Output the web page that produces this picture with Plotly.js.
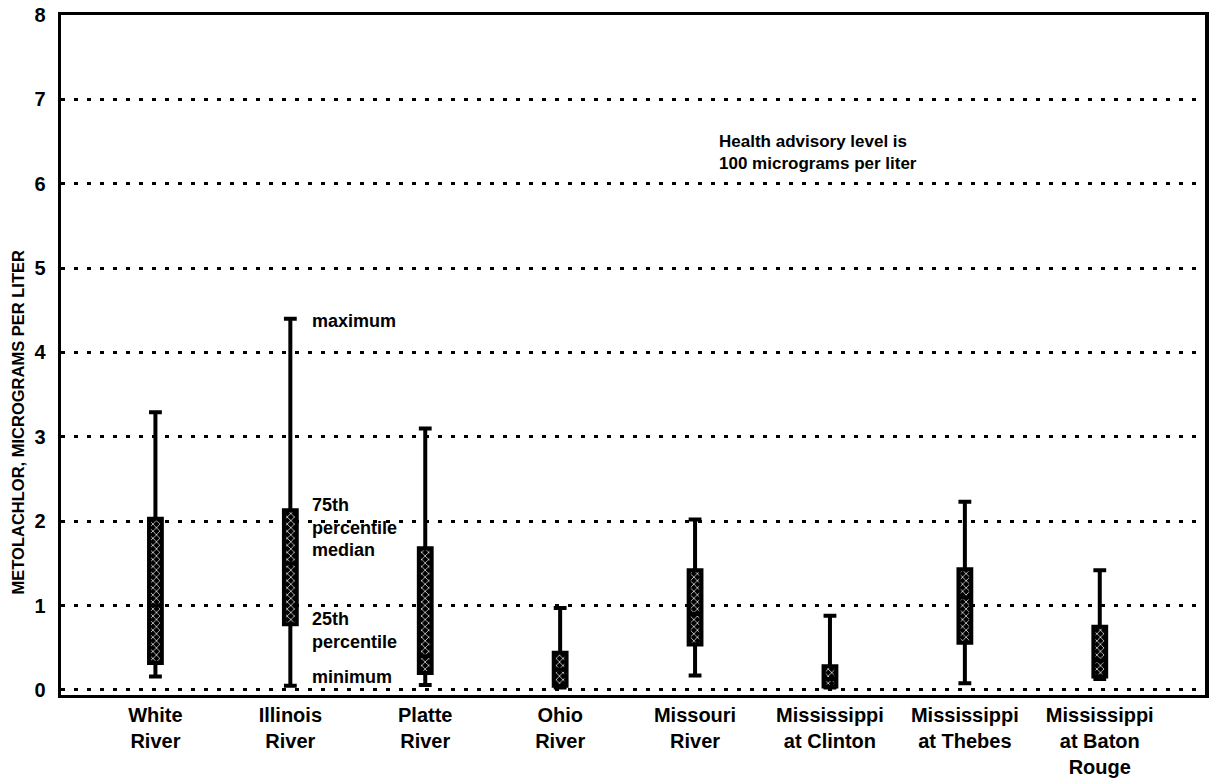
<!DOCTYPE html>
<html>
<head>
<meta charset="utf-8">
<script src="https://cdn.plot.ly/plotly-3.0.1.min.js"></script>
<style>
  html, body { margin: 0; padding: 0; background: #ffffff; }
  #chart { width: 1209px; height: 784px; }
</style>
</head>
<body>
<div id="chart"></div>
<script>
// ---- Data (micrograms per liter) ----
const categories = [
  'White<br>River',
  'Illinois<br>River',
  'Platte<br>River',
  'Ohio<br>River',
  'Missouri<br>River',
  'Mississippi<br>at Clinton',
  'Mississippi<br>at Thebes',
  'Mississippi<br>at Baton<br>Rouge'
];
const minimum = [0.16, 0.05, 0.06, 0.03, 0.17, 0.03, 0.08, 0.13];
const q1      = [0.32, 0.78, 0.20, 0.05, 0.54, 0.04, 0.56, 0.16];
const median  = [1.00, 1.50, 0.40, 0.24, 0.90, 0.13, 1.10, 0.35];
const q3      = [2.03, 2.13, 1.68, 0.44, 1.42, 0.28, 1.43, 0.75];
const maximum = [3.29, 4.40, 3.10, 0.97, 2.02, 0.88, 2.23, 1.42];

const yTickVals = [0, 1, 2, 3, 4, 5, 6, 7, 8];
const yTickText = ['0', '1', '2', '3', '4', '5', '6', '7', '8'];

const yTitle = 'METOLACHLOR, MICROGRAMS PER LITER';
const healthNote = 'Health advisory level is<br>100 micrograms per liter';

const FONT = 'Liberation Sans, Arial, Helvetica, sans-serif';

const pattern = { shape: 'x', fgcolor: '#ffffff', bgcolor: '#000000', size: 5, solidity: 0.25 };

const lowerBars = {
  type: 'bar', x: categories,
  base: q1, y: q1.map((v, i) => median[i] - v),
  width: 0.075,
  marker: { color: '#000000', line: { color: '#000000', width: 1 }, pattern: pattern },
  hoverinfo: 'skip', showlegend: false
};
const upperBars = {
  type: 'bar', x: categories,
  base: median, y: median.map((v, i) => q3[i] - v),
  width: 0.075,
  marker: { color: '#000000', line: { color: '#000000', width: 1 }, pattern: pattern },
  hoverinfo: 'skip', showlegend: false
};
const boxes = {
  type: 'box', x: categories,
  q1: q1, median: median, q3: q3,
  lowerfence: minimum, upperfence: maximum,
  boxpoints: false,
  width: 0.095,
  whiskerwidth: 1,
  fillcolor: 'rgba(0,0,0,0)',
  line: { color: '#000000', width: 4 },
  hoverinfo: 'skip', showlegend: false
};

const labelFont = { family: FONT, size: 18, color: '#000000', weight: 'bold' };
const annX = 1.15;
const annotations = [
  { text: 'maximum', x: annX, y: 4.37 },
  { text: '75th<br>percentile', x: annX, y: 2.06 },
  { text: 'median', x: annX, y: 1.66 },
  { text: '25th<br>percentile', x: annX, y: 0.71 },
  { text: 'minimum', x: annX, y: 0.15 }
].map(a => Object.assign({
  xref: 'x', yref: 'y', xanchor: 'left', yanchor: 'middle', align: 'left',
  showarrow: false, font: labelFont, borderpad: 0
}, a));

annotations.push({
  text: healthNote,
  xref: 'x', yref: 'y', x: 4.16, y: 6.64, xanchor: 'left', yanchor: 'top', align: 'left',
  showarrow: false, font: { family: FONT, size: 17, color: '#000000', weight: 'bold' }
});

// rotated y-axis title, placed like the reference (centred lower than the axis midpoint)
annotations.push({
  text: yTitle, textangle: -90,
  xref: 'paper', yref: 'paper', x: -0.0375, y: 0.401, xanchor: 'center', yanchor: 'middle',
  showarrow: false, font: { family: FONT, size: 16.5, color: '#000000', weight: 'bold' }
});

const layout = {
  width: 1209, height: 784,
  margin: { l: 61, r: 4, t: 15, b: 89 },
  paper_bgcolor: '#ffffff', plot_bgcolor: '#ffffff',
  barmode: 'overlay',
  font: { family: FONT, color: '#000000' },
  showlegend: false,
  xaxis: {
    type: 'category',
    range: [-0.7, 7.78],
    showgrid: false, zeroline: false,
    showline: true, linecolor: '#000000', linewidth: 3, mirror: true,
    ticks: '',
    tickfont: { family: FONT, size: 20, color: '#000000', weight: 'bold' },
    fixedrange: true
  },
  yaxis: {
    range: [-0.06, 8.0],
    tickvals: yTickVals, ticktext: yTickText,
    showgrid: true, gridcolor: '#000000', gridwidth: 3, griddash: '3.5px,9.5px',
    zeroline: false,
    showline: true, linecolor: '#000000', linewidth: 3.5, mirror: true,
    ticks: '',
    ticklabelstandoff: 8,
    tickfont: { family: FONT, size: 20, color: '#000000', weight: 'bold' },
    fixedrange: true
  },
  annotations: annotations
};

Plotly.newPlot('chart', [lowerBars, upperBars, boxes], layout, { displayModeBar: false, staticPlot: true });
</script>
</body>
</html>
